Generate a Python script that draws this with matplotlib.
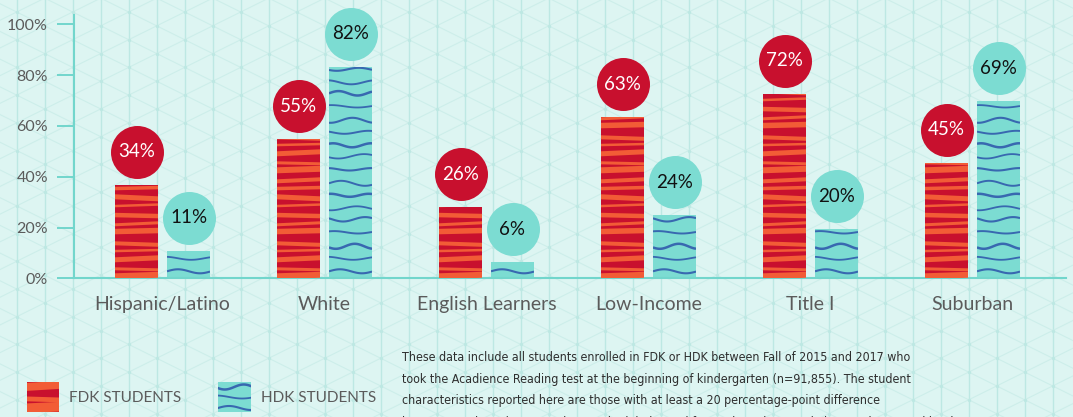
import numpy as np
import matplotlib
matplotlib.use('Agg')
import matplotlib.pyplot as plt
from matplotlib import font_manager as fm
from matplotlib.patches import Polygon, Rectangle

# ---- data ----
categories = ['Hispanic/Latino', 'White', 'English Learners', 'Low-Income', 'Title I', 'Suburban']
fdk_labels = [34, 55, 26, 63, 72, 45]
hdk_labels = [11, 82, 6, 24, 20, 69]
# bar heights as drawn in the original graphic (a little off the printed labels)
fdk_heights = [36.8, 54.8, 28.0, 63.5, 72.6, 45.4]
hdk_heights = [10.9, 83.2, 6.4, 24.9, 19.4, 69.8]
y_ticks = [0, 20, 40, 60, 80, 100]
legend_names = ['FDK STUDENTS', 'HDK STUDENTS']
note_lines = [
    'These data include all students enrolled in FDK or HDK between Fall of 2015 and 2017 who',
    'took the Acadience Reading test at the beginning of kindergarten (n=91,855). The student',
    'characteristics reported here are those with at least a 20 percentage-point difference',
    'between students in FDK and HDK. The labels used for student characteristics are those used by the',
]

RED = '#c8102e'
ORANGE = '#f25c36'
TEAL = '#7cdcd2'
WAVE = '#3868b0'
BG = '#ddf5f2'
AXIS = '#72d6cc'
GRID_V = '#bde8e3'
GRID_D = '#cdeeea'
TXT = '#5b5b5b'

plt.rcParams['font.family'] = ['Lato', 'DejaVu Sans']


def pick_narrow():
    # a condensed face for the note, if one is installed
    for fam, stretch in [('Liberation Sans Narrow', 'normal'), ('DejaVu Sans', 'condensed')]:
        try:
            path = fm.findfont(fm.FontProperties(family=fam, stretch=stretch),
                               fallback_to_default=False)
        except ValueError:
            continue
        if 'Narrow' in path or 'Condensed' in path:
            return fam, stretch
    return 'Lato', 'normal'


W, H = 1073, 417
fig = plt.figure(figsize=(W / 100, H / 100), dpi=100)
fig.patch.set_facecolor(BG)

# background grid, in pixel coordinates
bg = fig.add_axes([0, 0, 1, 1], zorder=0)
bg.set_xlim(0, W)
bg.set_ylim(H, 0)
bg.axis('off')
sp, dy, x0, y0 = 28.0, 27.7, 16.7, 12.0
s = (dy / 2) / sp
xs_full = np.array([0, W])
for k in range(0, 40):
    bg.plot([x0 + k * sp] * 2, [0, H], color=GRID_V, lw=1.0, zorder=0)
for j in range(-30, 60):
    bg.plot(xs_full, y0 + s * (xs_full - x0) + j * dy, color=GRID_D, lw=0.8, zorder=0)
    bg.plot(xs_full, y0 - s * (xs_full - x0) + j * dy, color=GRID_D, lw=0.8, zorder=0)
dot_x, dot_y = [], []
for k in range(0, 40):
    for j in range(-1, 17):
        dot_x.append(x0 + k * sp)
        dot_y.append(y0 + (k % 2) * dy / 2 + j * dy)
bg.scatter(dot_x, dot_y, s=6, color=GRID_V, linewidths=0, zorder=0)


def stripe_polys(w, h, big=False):
    thick = [6, 3, 5, 2.5, 4, 5.5, 3, 4.5, 2.5, 5, 3.5, 4]
    tilt = [1.5, -1, 2, 1, -1.5, 1, 2, -1, 1.5, -2, 1, 2]
    gaps = [9, 8, 10, 7, 11, 8, 9, 10, 8, 9, 7, 10]
    if big:
        thick = [t * 1.6 for t in thick]
        gaps = [g * 1.3 for g in gaps]
    polys = []
    y, i = -1.0, 0
    while y < h + 3:
        t, d = thick[i % 12], tilt[i % 12]
        polys.append([(0, y), (w, y + d), (w, y + d + t), (0, y + t)])
        y += gaps[i % 12]
        i += 1
    return polys


def wave_lines(w, h, start=7, step=None):
    amps = [2.0, 1.5, 2.5, 1.2, 2.2]
    phs = [0, 1.8, 3.6, 0.9, 2.7, 4.5, 1.3]
    lams = [44, 52, 38, 48]
    steps = step or [13, 12, 14, 13, 11]
    lws = [1.5, 1.3, 1.8, 1.4]
    xs = np.linspace(0, w, 60)
    out = []
    y, i = start, 0
    while y < h + 3:
        ys = y + amps[i % 5] * np.sin(2 * np.pi * xs / lams[i % 4] + phs[i % 7])
        out.append((xs, ys, lws[i % 4]))
        y += steps[i % len(steps)]
        i += 1
    return out


# ---- main chart ----
ax = fig.add_axes([74 / W, (H - 278.3) / H, (1066 - 74) / W, (278.3 - 15) / H], zorder=1)
ax.set_facecolor('none')
px_x = 1 / 162.0
px_y = 1 / 2.54
ax.set_xlim((74 - 162.5) * px_x, (1066 - 162.5) * px_x)
ax.set_ylim(0, 263.3 * px_y)

x = np.arange(len(categories))
bw = 43 * px_x
off = 26 * px_x
fdk_bars = ax.bar(x - off, fdk_heights, width=bw, color=RED, zorder=2)
hdk_bars = ax.bar(x + off, hdk_heights, width=bw, color=TEAL, zorder=2)

for bar in fdk_bars:
    bx, by = bar.get_x(), bar.get_y()
    wpx = bar.get_width() / px_x
    hpx = bar.get_height() / px_y
    for poly in stripe_polys(wpx, hpx):
        pts = [(bx + u * px_x, by + v * px_y) for u, v in poly]
        p = Polygon(pts, closed=True, color=ORANGE, lw=0, zorder=3)
        ax.add_patch(p)
        p.set_clip_path(bar)

for bar in hdk_bars:
    bx, by = bar.get_x(), bar.get_y()
    wpx = bar.get_width() / px_x
    hpx = bar.get_height() / px_y
    for xs, ys, lw in wave_lines(wpx, hpx):
        ln, = ax.plot(bx + xs * px_x, by + ys * px_y, color=WAVE, lw=lw, zorder=3,
                      solid_capstyle='butt')
        ln.set_clip_path(bar)

# value bubbles
circ = (53 * 0.72) ** 2
lift = 33 * px_y
for i in range(len(categories)):
    ax.scatter(x[i] - off, fdk_heights[i] + lift, s=circ, color=RED, linewidths=0,
               zorder=4, clip_on=False)
    ax.text(x[i] - off, fdk_heights[i] + lift, f'{fdk_labels[i]}%', ha='center',
            va='center', color='white', fontsize=13.5, zorder=5)
    ax.scatter(x[i] + off, hdk_heights[i] + lift, s=circ, color=TEAL, linewidths=0,
               zorder=4, clip_on=False)
    ax.text(x[i] + off, hdk_heights[i] + lift, f'{hdk_labels[i]}%', ha='center',
            va='center', color='#111111', fontsize=13.5, zorder=5)

for side in ['top', 'right']:
    ax.spines[side].set_visible(False)
for side in ['left', 'bottom']:
    ax.spines[side].set_color(AXIS)
    ax.spines[side].set_linewidth(1.5)
ax.set_yticks(y_ticks)
ax.set_yticklabels([f'{t}%' for t in y_ticks])
ax.tick_params(axis='y', length=12.2, width=1.4, color=AXIS, pad=6.5,
               labelsize=11.5, labelcolor=TXT)
ax.set_xticks(x)
ax.set_xticklabels(categories)
ax.tick_params(axis='x', length=0, pad=13, labelsize=14, labelcolor=TXT)

# ---- legend (pixel coords) ----
leg_boxes = [(27, 382, 32, 30), (218, 382, 33, 30)]
for n, (lx, ly, lw_, lh) in enumerate(leg_boxes):
    rect = Rectangle((lx, ly), lw_, lh, color=RED if n == 0 else TEAL, lw=0, zorder=2)
    bg.add_patch(rect)
    if n == 0:
        for poly in stripe_polys(lw_, lh, big=True):
            pts = [(lx + u, ly + lh - v) for u, v in poly]
            p = Polygon(pts, closed=True, color=ORANGE, lw=0, zorder=3)
            bg.add_patch(p)
            p.set_clip_path(rect)
    else:
        for xs, ys, lw in wave_lines(lw_, lh, start=4, step=[11, 10, 11]):
            ln, = bg.plot(lx + xs, ly + lh - ys, color=WAVE, lw=lw, zorder=3)
            ln.set_clip_path(rect)
    bg.text(lx + lw_ + 10, 398, legend_names[n], va='center', ha='left',
            fontsize=11, color=TXT, zorder=3)

# ---- note ----
nfam, nstretch = pick_narrow()
note_texts = []
for i, line in enumerate(note_lines):
    t = bg.text(402, 357.3 + i * 21.8, line, va='center', ha='left', fontsize=10.5,
                color='#2e2e2e', family=[nfam, 'DejaVu Sans'], fontstretch=nstretch)
    note_texts.append(t)
# size the note so its first line is about as wide as in the original
renderer = fig.canvas.get_renderer()
width_now = note_texts[0].get_window_extent(renderer).width
size = 10.5 * 515 / width_now
for t in note_texts:
    t.set_fontsize(size)

fig.savefig('out.png', dpi=100, facecolor=BG)
